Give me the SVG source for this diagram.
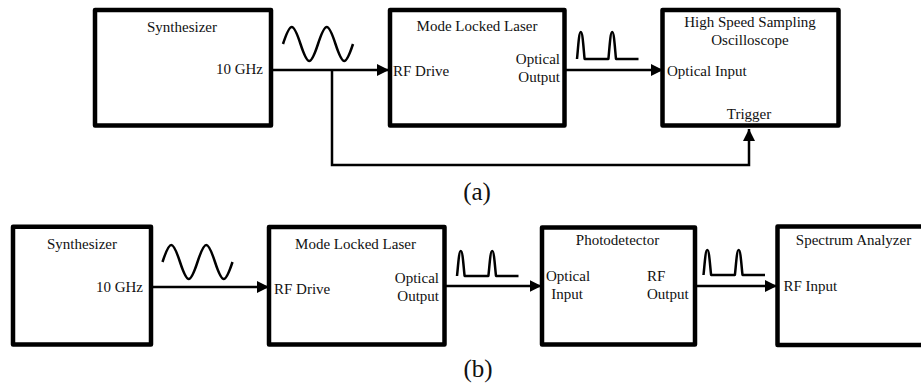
<svg xmlns="http://www.w3.org/2000/svg" xmlns:xlink="http://www.w3.org/1999/xlink" width="921" height="385" viewBox="0 0 921 385">
<style>
.box{fill:#fff;stroke:#000;stroke-width:4.5;stroke-linejoin:round}
.t{font-family:"Liberation Serif","Times New Roman",serif;font-size:15px;fill:#111}
.m{text-anchor:middle}
.e{text-anchor:end}
.cap{font-family:"Liberation Serif","Times New Roman",serif;font-size:25px;fill:#111;text-anchor:middle}
.wire{fill:none;stroke:#000;stroke-width:2.5}
.wave{fill:none;stroke:#000;stroke-width:2.5;stroke-linejoin:round}
</style>
<defs>
<marker id="arr" markerUnits="userSpaceOnUse" markerWidth="12" markerHeight="12" viewBox="0 0 11 11" refX="11" refY="5.5" orient="auto">
<path d="M0,0 L11,5.5 L0,11 z" fill="#000"/>
</marker>
<path id="sine" d="M0,0 C2.85,-8.7 5.97,-17 8.75,-17 C11.53,-17 14.65,-8.7 17.5,0 C20.35,8.7 23.47,17 26.25,17 C29.03,17 32.15,8.7 35,0 C37.85,-8.7 40.97,-17 43.75,-17 C46.53,-17 49.65,-8.7 52.5,0 C55.35,8.7 58.47,17 61.25,17 C64.03,17 67.15,8.7 70,0"/>
<path id="pulse" d="M0,0 C1.2,-12 2,-27 3.8,-27 C5.6,-27 6.4,-12 7.6,0 L31.4,0 C32.6,-12 33.4,-27 35.2,-27 C37,-27 37.8,-12 39,0 L61.5,0"/>
</defs>

<g id="a-synth">
<rect class="box" x="95" y="10" width="176" height="115.5"/>
<text class="t m" x="182" y="32">Synthesizer</text>
<text class="t e" x="263" y="74">10 GHz</text>
</g>
<g id="a-laser">
<rect class="box" x="390" y="10" width="174.5" height="115.5"/>
<text class="t m" x="477" y="31">Mode Locked Laser</text>
<text class="t" x="393" y="76">RF Drive</text>
<text class="t e" x="560" y="64">Optical</text>
<text class="t e" x="560" y="82">Output</text>
</g>
<g id="a-scope">
<rect class="box" x="662.5" y="10" width="176" height="115.5"/>
<text class="t m" x="750" y="27">High Speed Sampling</text>
<text class="t m" x="750" y="45">Oscilloscope</text>
<text class="t" x="667" y="76">Optical Input</text>
<text class="t m" x="749" y="119">Trigger</text>
</g>

<g id="b-synth">
<rect class="box" x="13" y="226.7" width="138" height="117.8"/>
<text class="t m" x="82" y="249">Synthesizer</text>
<text class="t e" x="143" y="291.5">10 GHz</text>
</g>
<g id="b-laser">
<rect class="box" x="269" y="227" width="175.5" height="117.5"/>
<text class="t m" x="355.5" y="249">Mode Locked Laser</text>
<text class="t" x="274" y="294">RF Drive</text>
<text class="t e" x="439" y="282.5">Optical</text>
<text class="t e" x="439" y="300.5">Output</text>
</g>
<g id="b-photo">
<rect class="box" x="542" y="227.5" width="153" height="117"/>
<text class="t m" x="617.5" y="245">Photodetector</text>
<text class="t m" x="568" y="280.5">Optical</text>
<text class="t m" x="567" y="298.5">Input</text>
<text class="t" x="647" y="280.5">RF</text>
<text class="t" x="647" y="298.5">Output</text>
</g>
<g id="b-spectrum">
<rect class="box" x="777.5" y="226.5" width="150" height="118.5"/>
<text class="t m" x="853.5" y="245">Spectrum Analyzer</text>
<text class="t" x="783.5" y="290.5">RF Input</text>
</g>

<g id="connectors">
<path class="wire" d="M272,70 H389" marker-end="url(#arr)"/>
<path class="wire" d="M566,70 H663" marker-end="url(#arr)"/>
<path class="wire" d="M332,70 V165 H749 V129" marker-end="url(#arr)"/>
<path class="wire" d="M152,287 H269" marker-end="url(#arr)"/>
<path class="wire" d="M446,286 H541.5" marker-end="url(#arr)"/>
<path class="wire" d="M696,286 H777" marker-end="url(#arr)"/>
</g>

<g id="signals">
<use xlink:href="#sine" class="wave" transform="translate(283,44)"/>
<use xlink:href="#sine" class="wave" transform="translate(162.5,262)"/>
<use xlink:href="#pulse" class="wave" transform="translate(577,59)"/>
<use xlink:href="#pulse" class="wave" transform="translate(457,276) scale(1,0.93)"/>
<use xlink:href="#pulse" class="wave" transform="translate(703.5,275) scale(1,0.93)"/>
</g>

<text class="cap" x="477" y="200">(a)</text>
<text class="cap" x="478" y="377">(b)</text>
</svg>
